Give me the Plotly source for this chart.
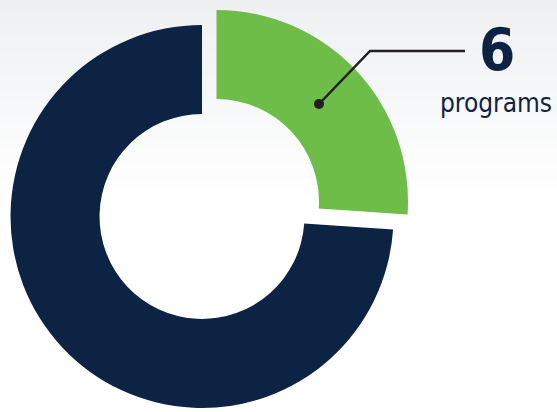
import plotly.graph_objects as go

labels = ["Programs", "Other"]
values = [6, 17]
colors = ["#6dbd48", "#0d2344"]
big_number = "6"
caption = "programs"

W, H = 557, 412
R = 191.5          # outer radius in px
CX, CY = 202, 216.5  # donut centre (px from top-left)
PULL_DX, PULL_DY = 14.5, -15  # offset of the highlighted slice

def dom(cx, cy):
    return dict(x=[(cx - R) / W, (cx + R) / W],
                y=[1 - (cy + R) / H, 1 - (cy - R) / H])

fig = go.Figure()

# background gradient (light grey at top fading to white)
n = 40
top = (238, 240, 241)
for i in range(n):
    t = i / (n - 1)
    c = tuple(round(top[k] + (255 - top[k]) * t) for k in range(3))
    y0 = 1 - (i * 5) / H
    y1 = 1 - ((i + 1) * 5) / H
    fig.add_shape(type="rect", xref="paper", yref="paper", x0=0, x1=1, y0=y1, y1=y0,
                  fillcolor="rgb(%d,%d,%d)" % c, line_width=0, layer="below")

# main ring (remaining slice)
fig.add_trace(go.Pie(
    labels=labels, values=values, hole=0.535, sort=False, direction="clockwise",
    rotation=0, textinfo="none", hoverinfo="label+value",
    marker=dict(colors=["rgba(0,0,0,0)", colors[1]], line=dict(width=0)),
    domain=dom(CX, CY), showlegend=False))

# highlighted slice, offset outward
fig.add_trace(go.Pie(
    labels=labels, values=values, hole=0.535, sort=False, direction="clockwise",
    rotation=0, textinfo="none", hoverinfo="label+value",
    marker=dict(colors=[colors[0], "rgba(0,0,0,0)"], line=dict(width=0)),
    domain=dom(CX + PULL_DX, CY + PULL_DY), showlegend=False))

def px(x, y):
    return x / W, 1 - y / H

# leader line
x0, y0 = px(319, 104)
x1, y1 = px(370, 51)
x2, y2 = px(465, 51)
fig.add_shape(type="path", xref="paper", yref="paper",
              path=f"M {x0},{y0} L {x1},{y1} L {x2},{y2}",
              line=dict(color="#231f20", width=2.5))
fig.add_shape(type="circle", xref="paper", yref="paper",
              x0=(319 - 5) / W, x1=(319 + 5) / W, y0=1 - (104 + 5) / H, y1=1 - (104 - 5) / H,
              fillcolor="#231f20", line_width=0)

font_stack = "DejaVu Sans Condensed, Liberation Sans Narrow, Roboto, sans-serif"
fig.add_annotation(x=497 / W, y=1 - 50 / H, xref="paper", yref="paper",
                   text=f"<b>{big_number}</b>", showarrow=False,
                   font=dict(size=58, color="#0d2344", family=font_stack),
                   xanchor="center", yanchor="middle")
fig.add_annotation(x=495.5 / W, y=1 - 103 / H, xref="paper", yref="paper",
                   text=caption, showarrow=False,
                   font=dict(size=26, color="#0d2344", family=font_stack),
                   xanchor="center", yanchor="middle")

fig.update_layout(width=W, height=H, margin=dict(l=0, r=0, t=0, b=0),
                  paper_bgcolor="white", plot_bgcolor="white")

fig.write_html("out.html")
